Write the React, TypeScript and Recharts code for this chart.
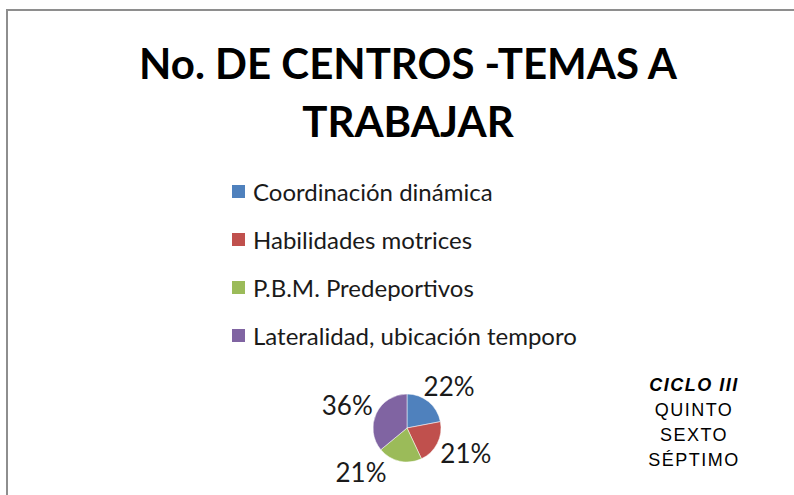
import { Legend, Pie, PieChart } from 'recharts';

const temas = [
  'Coordinación dinámica',
  'Habilidades motrices',
  'P.B.M. Predeportivos',
  'Lateralidad, ubicación temporo',
];
const porcentajes = [22, 21, 21, 36];
const colores = ['#4F81BD', '#C0504D', '#9BBB59', '#8064A2'];
const titulo = ['No. DE CENTROS -TEMAS A', 'TRABAJAR'];
const ciclo = ['QUINTO', 'SEXTO', 'SÉPTIMO'];

const data = temas.map((name, i) => ({ name, value: porcentajes[i], fill: colores[i] }));

const RAD = Math.PI / 180;
const LABEL_W = 44;
const LABEL_H = 20;
// límite inferior para el centro de la etiqueta (el área del gráfico se corta abajo)
const LABEL_MAX_Y = 472;

// etiqueta fuera del sector, "mejor ajuste" aproximado al estilo de Excel
function renderLabel(props: any) {
  const { cx, cy, midAngle, outerRadius, value } = props;
  const r = outerRadius + 10;
  const cos = Math.cos(midAngle * RAD);
  const sin = Math.sin(midAngle * RAD);
  let x = cx + r * cos + (LABEL_W / 2) * cos;
  let y = cy - r * sin - (LABEL_H / 2) * sin;
  if (y > LABEL_MAX_Y) {
    // si no cabe debajo, se desplaza hacia el lado
    y = LABEL_MAX_Y;
    x = cx + Math.sign(cos) * Math.max(Math.abs(x - cx), 46);
  }
  return (
    <text
      x={x}
      y={y}
      textAnchor="middle"
      dominantBaseline="central"
      fontSize={26}
      fontFamily="Lato, sans-serif"
      fill="#1a1a1a"
    >
      {`${value}%`}
    </text>
  );
}

function LegendContent() {
  return (
    <div style={{ fontFamily: 'Lato, sans-serif', fontSize: 24, color: '#1a1a1a' }}>
      {data.map((d) => (
        <div key={d.name} style={{ display: 'flex', alignItems: 'center', height: 48 }}>
          <span style={{ width: 13, height: 13, background: d.fill, marginRight: 8, display: 'inline-block' }} />
          <span>{d.name}</span>
        </div>
      ))}
    </div>
  );
}

export default function App() {
  return (
    <div style={{ position: 'absolute', left: 0, top: 0, width: 794, height: 495, background: '#fff', overflow: 'hidden' }}>
      <div style={{ position: 'absolute', left: 6, top: 9, width: 800, height: 500, borderLeft: '2.5px solid #8e8e8e', borderTop: '2.5px solid #8e8e8e' }} />
      <div
        style={{
          position: 'absolute',
          left: 0,
          width: 816,
          top: 34,
          textAlign: 'center',
          fontFamily: 'Lato, sans-serif',
          fontWeight: 700,
          fontSize: 42,
          lineHeight: '58px',
          color: '#000',
        }}
      >
        {titulo.map((t) => (
          <div key={t}>{t}</div>
        ))}
      </div>
      <PieChart
        width={794}
        height={495}
        margin={{ top: 0, right: 0, bottom: 0, left: 0 }}
        style={{ position: 'absolute', left: 0, top: 0 }}
      >
        <Pie
          data={data}
          dataKey="value"
          nameKey="name"
          cx={407}
          cy={428}
          outerRadius={34}
          startAngle={90}
          endAngle={-270}
          stroke="#fff"
          strokeWidth={0.5}
          label={renderLabel}
          labelLine={false}
          isAnimationActive={false}
        />
        <Legend
          layout="vertical"
          content={<LegendContent />}
          wrapperStyle={{ left: 232, top: 167, width: 420 }}
        />
      </PieChart>
      <div
        style={{
          position: 'absolute',
          left: 594,
          width: 200,
          top: 373,
          textAlign: 'center',
          fontFamily: '"Liberation Sans", Arial, sans-serif',
          fontSize: 18,
          lineHeight: '25px',
          letterSpacing: 1.5,
          color: '#000',
        }}
      >
        <div style={{ fontWeight: 700, fontStyle: 'italic' }}>CICLO III</div>
        {ciclo.map((c) => (
          <div key={c}>{c}</div>
        ))}
      </div>
    </div>
  );
}
